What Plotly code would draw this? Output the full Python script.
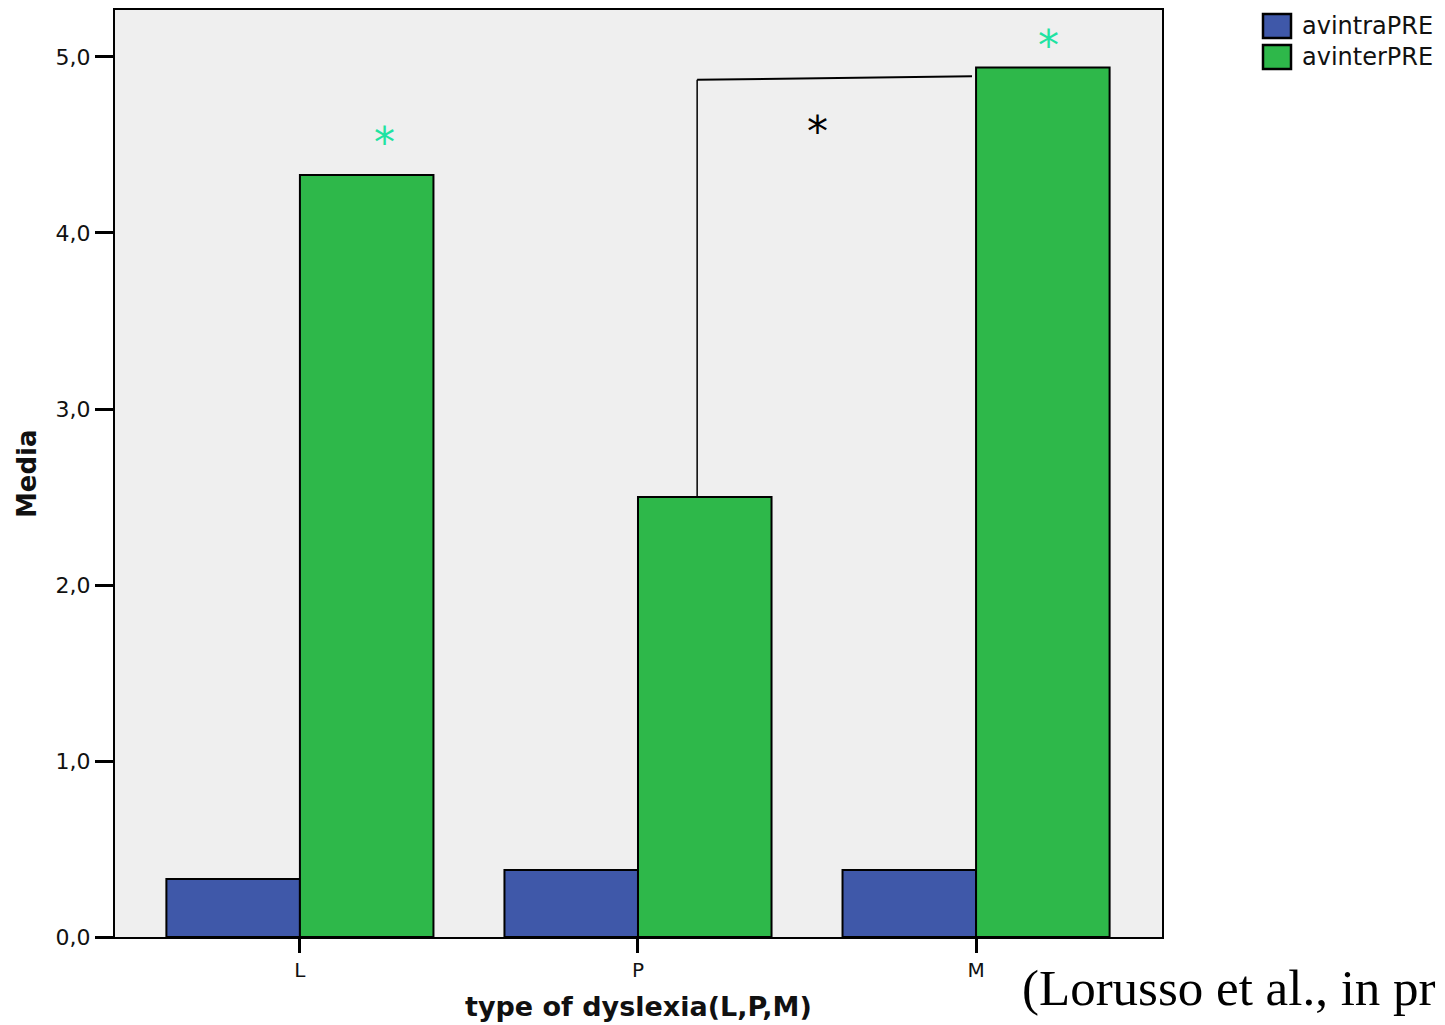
import plotly.graph_objects as go

# Mean scores by dyslexia subtype
categories = ["L", "P", "M"]
avintra_pre = [0.33, 0.38, 0.38]
avinter_pre = [4.33, 2.50, 4.94]
series_names = ["avintraPRE", "avinterPRE"]
y_ticks = [0, 1, 2, 3, 4, 5]
x_title = "type of dyslexia(L,P,M)"
y_title = "Media"
citation = "(Lorusso et al., in pr"

BLUE = "#3f58a9"
GREEN = "#2eb84a"
STAR_GREEN = "#1fe3a2"

# plot area in pixels
W, H = 1445, 1025
L_PX, R_PX, T_PX, B_PX = 115, 1162, 10, 937


def px_to_paper(x, y):
    return (x - L_PX) / (R_PX - L_PX), (B_PX - y) / (B_PX - T_PX)


fig = go.Figure()
for name, vals, col in [(series_names[0], avintra_pre, BLUE),
                        (series_names[1], avinter_pre, GREEN)]:
    fig.add_trace(go.Bar(
        x=categories, y=vals, name=name,
        marker=dict(color=col, line=dict(color="black", width=2)),
        showlegend=False,
    ))

# significance bracket between P and M (avinterPRE)
fig.add_shape(type="line", xref="x", yref="y",
              x0=1.175, y0=avinter_pre[1], x1=1.175, y1=4.87,
              line=dict(color="black", width=1.5))
fig.add_shape(type="line", xref="x", yref="y",
              x0=1.175, y0=4.87, x1=1.988, y1=4.89,
              line=dict(color="black", width=2))

# asterisks
star_font = "DejaVu Sans"
fig.add_annotation(x=1.53, y=4.61, xref="x", yref="y", text="*",
                   showarrow=False, font=dict(size=42, color="black", family=star_font),
                   yshift=-6)
fig.add_annotation(x=0.25, y=4.55, xref="x", yref="y", text="*",
                   showarrow=False, font=dict(size=42, color=STAR_GREEN, family=star_font),
                   yshift=-6)
fig.add_annotation(x=2.213, y=5.10, xref="x", yref="y", text="*",
                   showarrow=False, font=dict(size=42, color=STAR_GREEN, family=star_font),
                   yshift=-6)

# legend drawn as swatches + labels
for i, (name, col) in enumerate(zip(series_names, [BLUE, GREEN])):
    cy = 26 + 31 * i
    x0, y0 = px_to_paper(1263, cy - 12)
    x1, y1 = px_to_paper(1291, cy + 12)
    fig.add_shape(type="rect", xref="paper", yref="paper",
                  x0=x0, y0=y0, x1=x1, y1=y1,
                  fillcolor=col, line=dict(color="black", width=2.5))
    tx, ty = px_to_paper(1300, cy)
    fig.add_annotation(x=tx, y=ty, xref="paper", yref="paper", text=name,
                       showarrow=False, xanchor="left", yanchor="middle",
                       font=dict(size=24, color="#111111", family="DejaVu Sans"))

# axis titles
tx, ty = px_to_paper(638, 1007)
fig.add_annotation(x=tx, y=ty, xref="paper", yref="paper", text=f"<b>{x_title}</b>",
                   showarrow=False, xanchor="center", yanchor="middle",
                   font=dict(size=27, color="#111111", family="DejaVu Sans"))
tx, ty = px_to_paper(27, 474)
fig.add_annotation(x=tx, y=ty, xref="paper", yref="paper", text=f"<b>{y_title}</b>",
                   showarrow=False, xanchor="center", yanchor="middle", textangle=-90,
                   font=dict(size=26, color="#111111", family="DejaVu Sans"))

# citation
cx, cy = px_to_paper(1020, 988)
fig.add_annotation(x=cx, y=cy, xref="paper", yref="paper",
                   text=citation, showarrow=False,
                   xanchor="left", yanchor="middle",
                   font=dict(size=51, color="black", family="Liberation Serif"))

fig.update_layout(
    width=W, height=H,
    margin=dict(l=L_PX, r=W - R_PX, t=T_PX, b=H - B_PX),
    paper_bgcolor="white", plot_bgcolor="#efefef",
    barmode="group", bargap=0.21, bargroupgap=0,
    separators=",.",
    font=dict(family="DejaVu Sans", color="#111111"),
)
fig.update_xaxes(
    range=[-0.547, 2.55], showgrid=False, automargin=False,
    showline=True, linecolor="black", linewidth=2, mirror=True,
    ticks="outside", ticklen=14, tickwidth=3, tickcolor="black",
    tickfont=dict(size=20, family="DejaVu Sans"),
)
fig.update_yaxes(
    range=[0, 5.267], tickvals=y_ticks, tickformat=".1f", showgrid=False,
    zeroline=False, automargin=False,
    showline=True, linecolor="black", linewidth=2, mirror=True,
    ticks="outside", ticklen=18, tickwidth=2.5, tickcolor="black",
    tickfont=dict(size=22, family="DejaVu Sans"),
)

fig.write_html("out.html")
